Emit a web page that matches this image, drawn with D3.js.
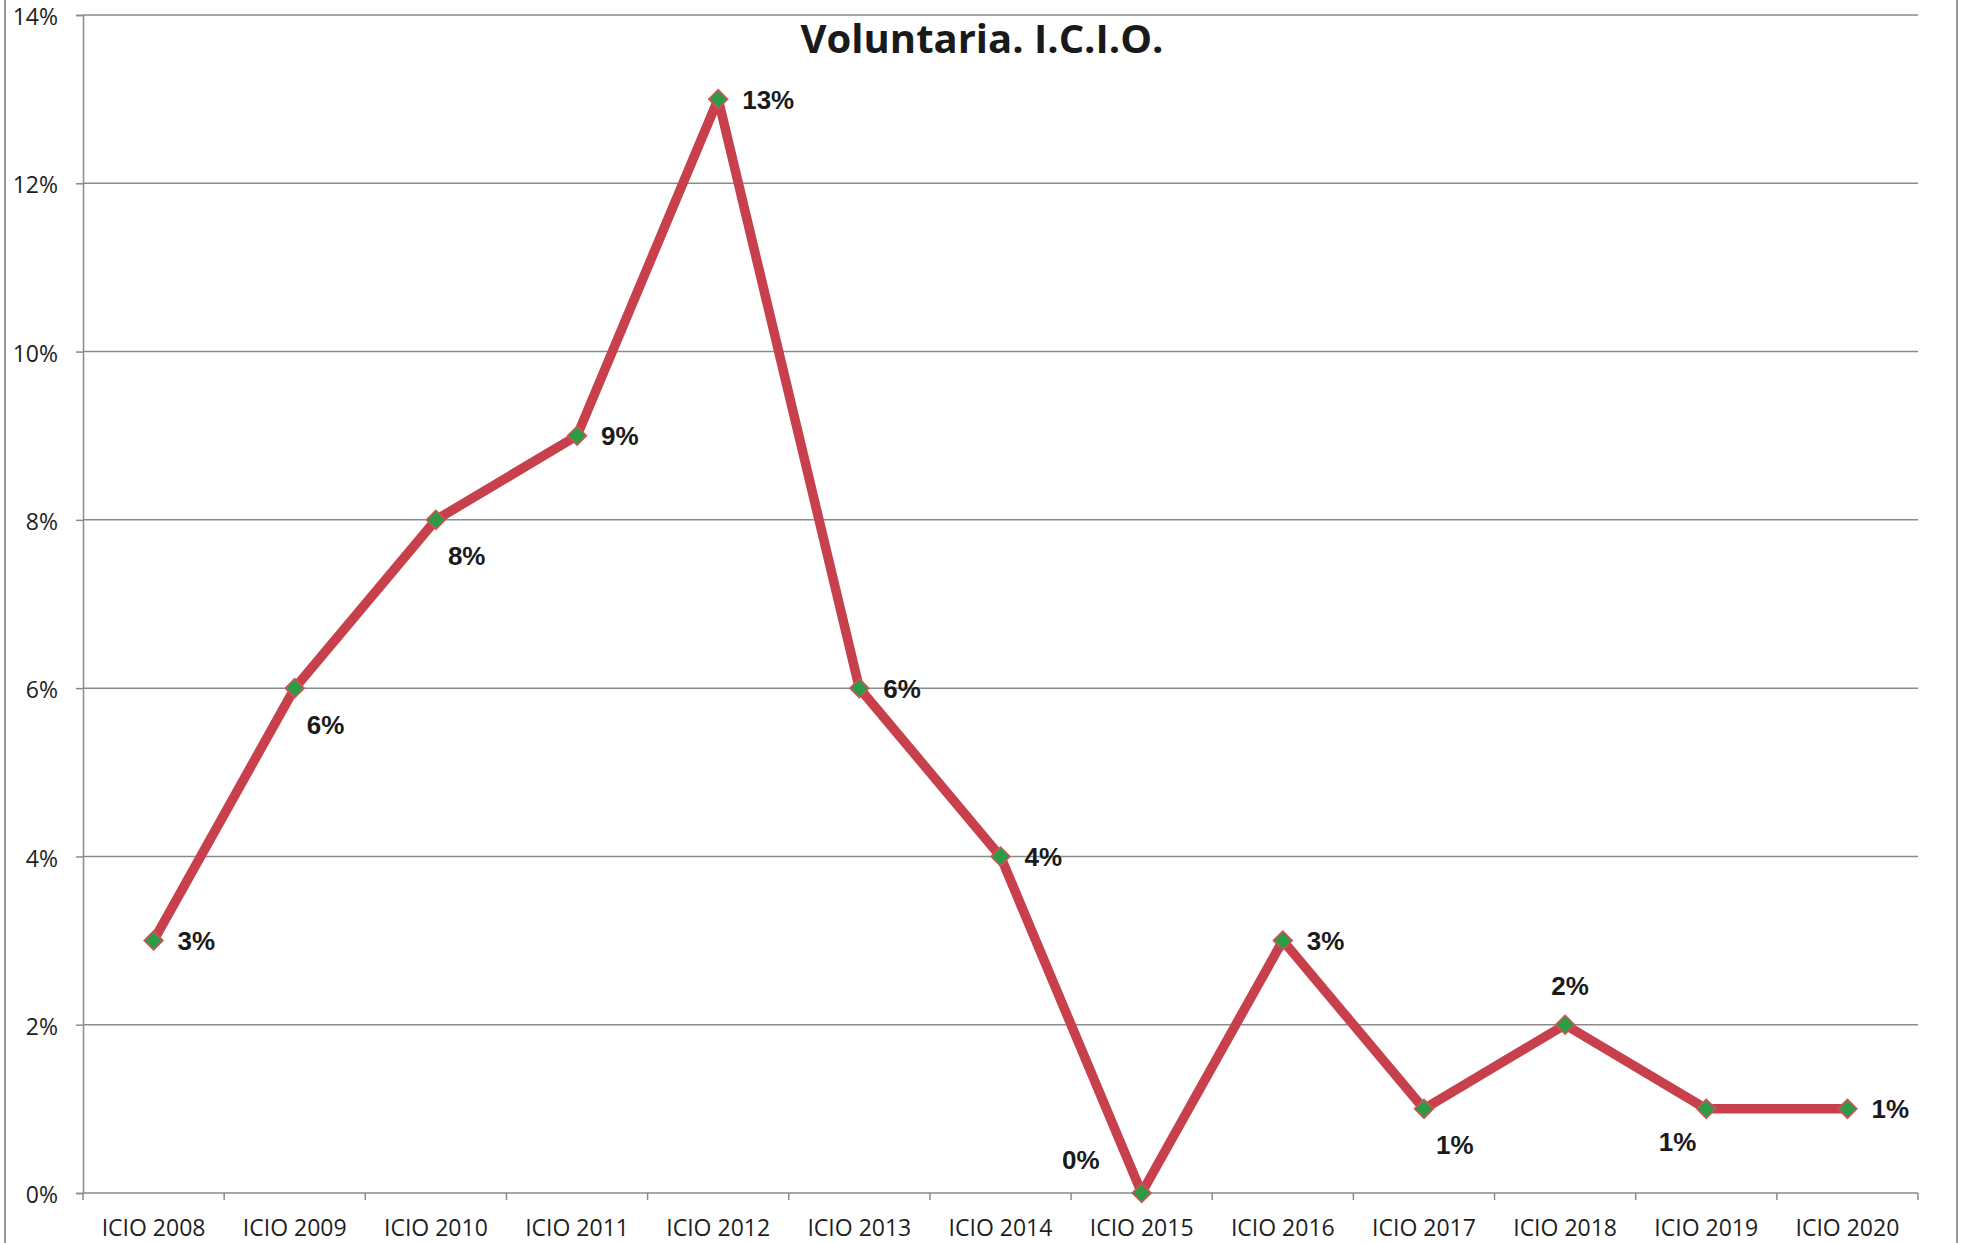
<!DOCTYPE html>
<html>
<head>
<meta charset="utf-8">
<script src="https://cdnjs.cloudflare.com/ajax/libs/d3/7.8.5/d3.min.js"></script>
<style>
  html, body { margin: 0; padding: 0; background: #fff; }
  svg { display: block; }
</style>
</head>
<body>
<div id="chart"></div>
<script>
// Data
const categories = ['ICIO 2008', 'ICIO 2009', 'ICIO 2010', 'ICIO 2011', 'ICIO 2012', 'ICIO 2013',
    'ICIO 2014', 'ICIO 2015', 'ICIO 2016', 'ICIO 2017', 'ICIO 2018', 'ICIO 2019', 'ICIO 2020'];
const values = [0.03, 0.06, 0.08, 0.09, 0.13, 0.06, 0.04, 0.0, 0.03, 0.01, 0.02, 0.01, 0.01];
const labels = ['3%', '6%', '8%', '9%', '13%', '6%', '4%', '0%', '3%', '1%', '2%', '1%', '1%'];
// where each data label sits relative to its point
const labelPlacement = ['r', 'br', 'br', 'r', 'r', 'r', 'r', 'tl', 'r', 'br', 't', 'bl', 'r'];
const yTicks = [0, 0.02, 0.04, 0.06, 0.08, 0.10, 0.12, 0.14];
const title = 'Voluntaria. I.C.I.O.';

const W = 1963, H = 1243;
const plot = { left: 83, right: 1918, top: 15, bottom: 1193 };

const svg = d3.select('#chart').append('svg')
    .attr('width', W)
    .attr('height', H);

svg.append('rect').attr('width', W).attr('height', H).attr('fill', '#fff');

// chart frame (left / right edges visible)
svg.append('rect')
    .attr('x', 5).attr('y', -10)
    .attr('width', 1952).attr('height', H + 20)
    .attr('fill', 'none')
    .attr('stroke', '#9a9a9a')
    .attr('stroke-width', 2);

const xScale = d3.scaleBand()
    .domain(categories)
    .range([plot.left, plot.right])
    .padding(0);

const yScale = d3.scaleLinear()
    .domain([0, 0.14])
    .range([plot.bottom, plot.top]);

// gridlines
svg.append('g')
    .selectAll('line')
    .data(yTicks.filter(d => d > 0))
    .enter()
    .append('line')
    .attr('x1', plot.left)
    .attr('x2', plot.right)
    .attr('y1', d => yScale(d))
    .attr('y2', d => yScale(d))
    .attr('stroke', '#8a8a8a')
    .attr('stroke-width', 1.5);

// y axis
const yAxis = svg.append('g')
    .attr('transform', `translate(${plot.left},0)`)
    .call(d3.axisLeft(yScale).tickValues(yTicks).tickFormat(d3.format('.0%')).tickSize(7).tickPadding(18));
yAxis.select('.domain').attr('stroke', '#8a8a8a').attr('stroke-width', 1.5);
yAxis.selectAll('.tick line').attr('stroke', '#8a8a8a').attr('stroke-width', 1.5);
yAxis.selectAll('text')
    .attr('dy', '0.42em')
    .style('font-family', '"Open Sans", sans-serif')
    .style('font-size', '23px')
    .style('fill', '#1e1e1e');

// x axis (labels centred in bands, ticks at band edges)
const xAxis = svg.append('g')
    .attr('transform', `translate(0,${plot.bottom})`)
    .call(d3.axisBottom(xScale).tickSize(0).tickPadding(27));
xAxis.select('.domain').remove();
xAxis.selectAll('text')
    .style('font-family', '"Open Sans", sans-serif')
    .style('font-size', '23px')
    .style('fill', '#1e1e1e');

svg.append('line')
    .attr('x1', plot.left).attr('x2', plot.right)
    .attr('y1', plot.bottom).attr('y2', plot.bottom)
    .attr('stroke', '#8a8a8a').attr('stroke-width', 1.5);

const edges = categories.map(c => xScale(c)).concat([xScale(categories[categories.length - 1]) + xScale.bandwidth()]);
svg.append('g')
    .selectAll('line')
    .data(edges)
    .enter()
    .append('line')
    .attr('x1', d => d).attr('x2', d => d)
    .attr('y1', plot.bottom).attr('y2', plot.bottom + 7)
    .attr('stroke', '#8a8a8a').attr('stroke-width', 1.5);

// series
const cx = (d, i) => xScale(categories[i]) + xScale.bandwidth() / 2;

const line = d3.line()
    .x((d, i) => cx(d, i))
    .y(d => yScale(d));

svg.append('path')
    .datum(values)
    .attr('d', line)
    .attr('fill', 'none')
    .attr('stroke', '#c8404c')
    .attr('stroke-width', 9.5)
    .attr('stroke-linejoin', 'round');

svg.append('g')
    .selectAll('path')
    .data(values)
    .enter()
    .append('path')
    .attr('d', d3.symbol(d3.symbolSquare, 180))
    .attr('transform', (d, i) => `translate(${cx(d, i)},${yScale(d)}) rotate(45)`)
    .attr('fill', '#2e9a45')
    .attr('stroke', '#d2525a')
    .attr('stroke-width', 1.5);

// data labels
const placement = {
    r:  { dx: 24, dy: 0, anchor: 'start' },
    br: { dx: 12, dy: 36, anchor: 'start' },
    t:  { dx: 5, dy: -39, anchor: 'middle' },
    bl: { dx: -10, dy: 33, anchor: 'end' },
    tl: { dx: -42, dy: -33, anchor: 'end' }
};

svg.append('g')
    .selectAll('text')
    .data(values)
    .enter()
    .append('text')
    .attr('x', (d, i) => cx(d, i) + placement[labelPlacement[i]].dx)
    .attr('y', (d, i) => yScale(d) + placement[labelPlacement[i]].dy)
    .attr('dy', '0.36em')
    .attr('text-anchor', (d, i) => placement[labelPlacement[i]].anchor)
    .style('font-family', '"Liberation Sans", Arial, sans-serif')
    .style('font-weight', 'bold')
    .style('font-size', '26px')
    .style('fill', '#1a1a1a')
    .text((d, i) => labels[i]);

// title
svg.append('text')
    .attr('x', 982)
    .attr('y', 53)
    .attr('text-anchor', 'middle')
    .style('font-family', '"Open Sans", sans-serif')
    .style('font-weight', 'bold')
    .style('font-size', '40px')
    .style('fill', '#1a1a1a')
    .text(title);
</script>
</body>
</html>
